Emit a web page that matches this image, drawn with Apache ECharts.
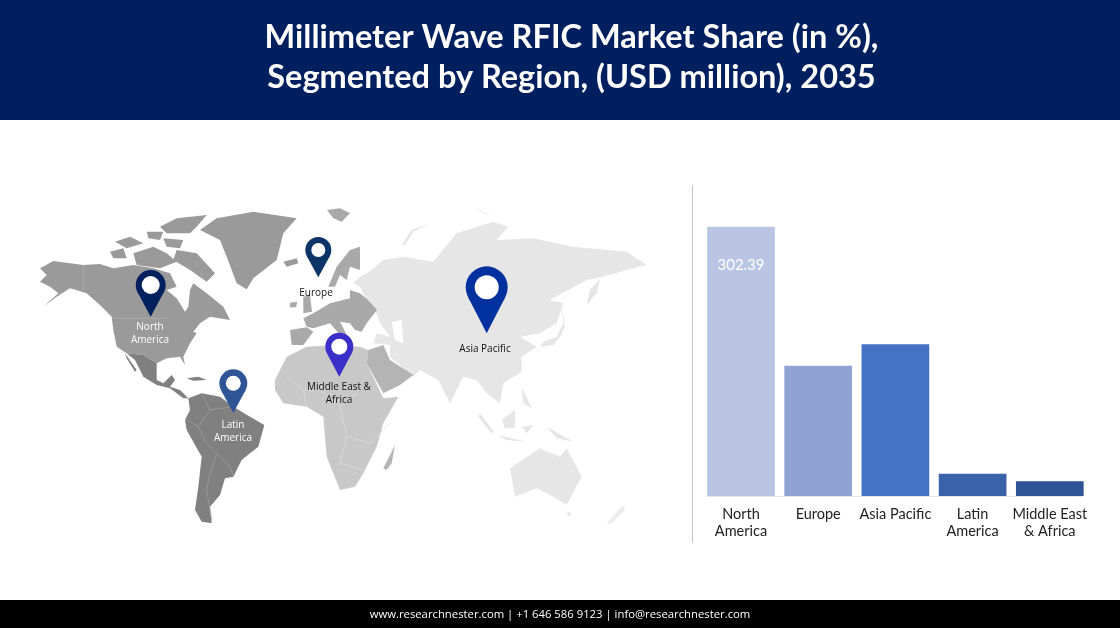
<!DOCTYPE html>
<html>
<head>
    <meta charset="utf-8">
    <title>Millimeter Wave RFIC Market Share</title>
    <style>html,body{margin:0;padding:0;background:#fff}</style>
    <script src="https://cdn.jsdelivr.net/npm/echarts@6/dist/echarts.min.js"></script>
</head>
<body>
    <div id="main" style="width:1120px;height:628px;"></div>
    <script type="text/javascript">
        // chart values
        var regions = ['North\nAmerica', 'Europe', 'Asia Pacific', 'Latin\nAmerica', 'Middle East\n& Africa'];
        var marketValues = [302.39, 146.3, 170.3, 25, 16.5];
        var valueLabels = ['302.39', '', '', '', ''];
        var barColors = ['#b9c5e3', '#8fa2d4', '#4472c4', '#3a62ab', '#2f5597'];

        // backdrop map outlines, [fill, points]
        var westShapes = [
            ['#9a9a9a', [[60,235],[100,213],[190,225],[240,222],[280,235],[340,225],[400,235],[450,250],[470,290],[440,300],[470,325],[495,365],[505,350],[510,300],[520,280],[560,310],[610,350],[630,390],[570,380],[540,400],[520,425],[530,430],[510,460],[490,500],[495,525],[480,500],[440,505],[410,520],[370,495],[320,490],[290,470],[280,420],[275,380],[240,345],[200,310],[150,295],[110,320],[70,350],[115,310],[90,290],[60,275],[80,255]]],
            ['#9a9a9a', [[270,185],[310,175],[320,205],[280,205]]],
            ['#9a9a9a', [[285,155],[330,140],[370,160],[320,175]]],
            ['#9a9a9a', [[340,190],[400,170],[440,190],[470,215],[420,235],[350,225]]],
            ['#9a9a9a', [[470,180],[530,190],[585,250],[560,275],[510,240],[460,210]]],
            ['#9a9a9a', [[420,110],[470,85],[560,75],[530,110],[510,130],[440,130]]],
            ['#9a9a9a', [[380,125],[430,125],[420,150],[385,145]]],
            ['#9a9a9a', [[430,145],[490,150],[480,175],[440,170]]],
            ['#9a9a9a', [[540,120],[590,85],[700,65],[830,85],[790,130],[770,210],[700,265],[680,298],[650,280],[620,200],[600,150]]],
            ['#9a9a9a', [[790,215],[830,205],[835,220],[800,230]]],
            ['#808080', [[320,490],[370,495],[410,520],[410,570],[430,580],[455,555],[465,570],[450,590],[480,600],[505,625],[490,625],[450,595],[410,585],[370,560],[345,510]]],
            ['#808080', [[315,490],[350,540],[345,545],[320,505]]],
            ['#808080', [[500,565],[535,560],[560,570],[520,572]]],
            ['#808080', [[505,625],[545,610],[600,620],[640,650],[690,680],[733,705],[715,770],[690,790],[665,810],[640,860],[615,865],[600,915],[570,950],[575,1000],[545,995],[525,960],[535,890],[545,800],[500,720],[495,690],[510,660]]],
            ['#a9a9a9', [[810,420],[860,412],[880,425],[850,465],[815,465]]],
            ['#a9a9a9', [[860,410],[850,385],[880,370],[930,340],[990,325],[990,300],[1020,310],[1044,330],[1071,360],[1040,400],[1025,425],[1005,420],[990,400],[960,395],[985,445],[965,440],[930,400],[880,415]]],
            ['#a9a9a9', [[925,290],[950,230],[990,180],[1020,170],[1020,240],[990,230],[980,270],[960,255],[945,290]]],
            ['#a9a9a9', [[850,320],[870,315],[876,365],[850,370]]],
            ['#a9a9a9', [[810,338],[832,335],[828,352],[810,352]]],
            ['#a9a9a9', [[921,60],[960,55],[990,70],[965,95],[940,85]]]
        ];
        var eastShapes = [
            ['#e6e6e6', [[60,290],[40,280],[60,260],[95,240],[130,210],[190,200],[280,215],[300,190],[350,130],[460,95],[505,110],[470,150],[580,145],[700,170],[860,185],[920,225],[860,240],[790,260],[740,270],[630,330],[670,340],[650,400],[600,430],[540,440],[590,470],[545,500],[545,545],[490,580],[480,640],[440,610],[410,570],[370,560],[330,640],[295,570],[240,540],[220,560],[150,500],[150,465],[100,460],[110,430],[150,440],[120,400],[110,370],[85,340]]],
            ['#ffffff', [[155,395],[185,390],[190,460],[165,450]]],
            ['#e6e6e6', [[600,470],[640,465],[660,440],[675,410],[665,340],[670,400],[650,440],[610,455]]],
            ['#e6e6e6', [[740,345],[750,300],[780,265],[770,310]]],
            ['#e6e6e6', [[420,670],[465,730],[450,725],[415,680]]],
            ['#e6e6e6', [[485,690],[525,660],[525,715],[495,715]]],
            ['#e6e6e6', [[470,735],[560,755],[500,750]]],
            ['#e6e6e6', [[620,710],[700,755],[650,745]]],
            ['#e6e6e6', [[545,590],[575,655],[550,640]]],
            ['#e6e6e6', [[545,710],[580,705],[560,730]]],
            ['#e6e6e6', [[510,835],[600,775],[660,800],[680,775],[725,860],[680,945],[640,920],[590,895],[525,920]]],
            ['#ececec', [[800,1000],[850,945],[855,960],[815,1000]]],
            ['#e6e6e6', [[680,965],[695,970],[685,980]]],
            ['#e6e6e6', [[185,165],[215,120],[270,100],[220,125],[195,165]]],
            ['#eeeeee', [[400,50],[460,80],[430,70]]],
            ['#c8c8c8', [[-195,570],[-160,500],[-100,470],[-10,465],[60,470],[85,480],[80,520],[130,625],[175,620],[130,700],[110,770],[70,850],[45,890],[0,900],[-40,800],[-50,680],[-100,650],[-170,640],[-195,600]]],
            ['#b4b4b4', [[85,480],[130,465],[150,510],[220,555],[180,585],[130,610],[80,520]]],
            ['#b4b4b4', [[130,835],[165,765],[155,820],[140,840]]]
        ];
        // country borders on the darker land, same tracing coordinates as westShapes
        var westBorders = [
            ['#b5b5b5', [[190,225],[190,300]]],
            ['#b5b5b5', [[280,385],[440,385]]],
            ['#a0a0a0', [[545,610],[570,660],[640,650]]],
            ['#a0a0a0', [[500,690],[535,710],[570,660]]],
            ['#a0a0a0', [[535,710],[560,760],[590,790],[630,830],[640,860]]],
            ['#a0a0a0', [[590,790],[570,850],[560,900],[575,990]]],
            ['#dedede', [[800,560],[850,600],[900,600],[960,650],[1010,610]]],
            ['#dedede', [[850,600],[860,650]]],
            ['#dedede', [[960,650],[980,740],[1050,760],[1110,700]]],
            ['#dedede', [[980,740],[960,820],[1030,840]]]
        ];

        // pins: [x, y of head, radius, y of tip, inner radius, colour]
        var pins = [
            [150.7, 285, 15, 316.7, 9, '#02205e'],
            [318.3, 250, 13, 277.3, 7, '#0d3466'],
            [339.3, 346.7, 14, 376.7, 8, '#3a2fc8'],
            [233.3, 383.3, 14, 413, 7.5, '#2f5597'],
            [486.7, 287.3, 21, 333.3, 12, '#00319e']
        ];
        // map labels: [text, x, y, colour]
        var mapLabels = [
            ['North\nAmerica', 150, 334, '#ffffff'],
            ['Europe', 316, 293, '#111111'],
            ['Middle East &\nAfrica', 339, 394, '#111111'],
            ['Asia Pacific', 485, 349, '#111111'],
            ['Latin\nAmerica', 233, 432, '#ffffff']
        ];

        var graphics = [
            { type: 'rect', z: 0, shape: { x: 0, y: 0, width: 1120, height: 120 }, style: { fill: '#001f5f' } },
            { type: 'rect', z: 0, shape: { x: 0, y: 600, width: 1120, height: 28 }, style: { fill: '#000000' } },
            { type: 'line', z: 0, shape: { x1: 692.5, y1: 185, x2: 692.5, y2: 543 }, style: { stroke: '#c4c4c4', lineWidth: 1 } },
            { type: 'line', z: 0, shape: { x1: 707, y1: 496.5, x2: 1083, y2: 496.5 }, style: { stroke: '#e4e4e4', lineWidth: 1 } }
        ];

        function toPixels(points, offsetX) {
            return points.map(function (p) { return [offsetX + p[0] / 3, 190 + p[1] / 3]; });
        }
        function addShapes(list, offsetX) {
            list.forEach(function (s) {
                graphics.push({ type: 'polygon', z: 1, shape: { points: toPixels(s[1], offsetX) }, style: { fill: s[0] } });
            });
        }
        addShapes(eastShapes, 340);
        addShapes(westShapes, 20);
        westBorders.forEach(function (b) {
            graphics.push({ type: 'polyline', z: 1, shape: { points: toPixels(b[1], 20) }, style: { stroke: b[0], lineWidth: 0.7, fill: 'none' } });
        });

        pins.forEach(function (p) {
            var x = p[0], y = p[1], r = p[2], tip = p[3] - y;
            var a = Math.asin(r / tip);
            var dx = r * Math.cos(a), dy = r * Math.sin(a);
            graphics.push({
                type: 'polygon', z: 2,
                shape: { points: [[x, y + tip], [x - dx, y + dy], [x + dx, y + dy]] },
                style: { fill: p[5] }
            });
            graphics.push({ type: 'circle', z: 2, shape: { cx: x, cy: y, r: r }, style: { fill: p[5] } });
            graphics.push({ type: 'circle', z: 3, shape: { cx: x, cy: y, r: p[4] }, style: { fill: '#ffffff' } });
        });

        mapLabels.forEach(function (l) {
            graphics.push({
                type: 'text', z: 4, x: l[1], y: l[2],
                style: { text: l[0], fill: l[3], font: '10px "Open Sans"', align: 'center', verticalAlign: 'middle', lineHeight: 13 }
            });
        });

        graphics.push({
            type: 'text', z: 4, x: 560, y: 615,
            style: { text: 'www.researchnester.com | +1 646 586 9123 | info@researchnester.com', fill: '#ffffff', font: '11.3px "Open Sans"', align: 'center', verticalAlign: 'middle' }
        });

        var myChart = echarts.init(document.getElementById('main'));
        myChart.setOption({
            animation: false,
            backgroundColor: '#ffffff',
            title: {
                text: 'Millimeter Wave RFIC Market Share (in %),\nSegmented by Region, (USD million), 2035',
                left: 566.5,
                top: 13,
                textAlign: 'center',
                textStyle: { color: '#ffffff', fontFamily: 'Lato', fontWeight: 'bold', fontSize: 32.5, lineHeight: 40 }
            },
            graphic: { elements: graphics },
            grid: { left: 702.4, width: 386, top: 211, bottom: 132 },
            xAxis: {
                type: 'category',
                data: regions,
                axisTick: { show: false },
                axisLine: { show: false },
                axisLabel: { color: '#222222', fontFamily: 'Lato', fontSize: 14.5, lineHeight: 17, margin: 10, interval: 0 }
            },
            yAxis: { type: 'value', min: 0, max: 320, show: false, splitLine: { show: false } },
            series: [{
                type: 'bar',
                barWidth: '87.7%',
                data: marketValues.map(function (v, i) {
                    return { value: v, itemStyle: { color: barColors[i] } };
                }),
                label: {
                    show: true,
                    position: 'insideTop',
                    distance: 31,
                    color: '#ffffff',
                    fontFamily: 'Lato',
                    fontSize: 15,
                    formatter: function (p) { return valueLabels[p.dataIndex]; }
                }
            }]
        });
    </script>
</body>
</html>
